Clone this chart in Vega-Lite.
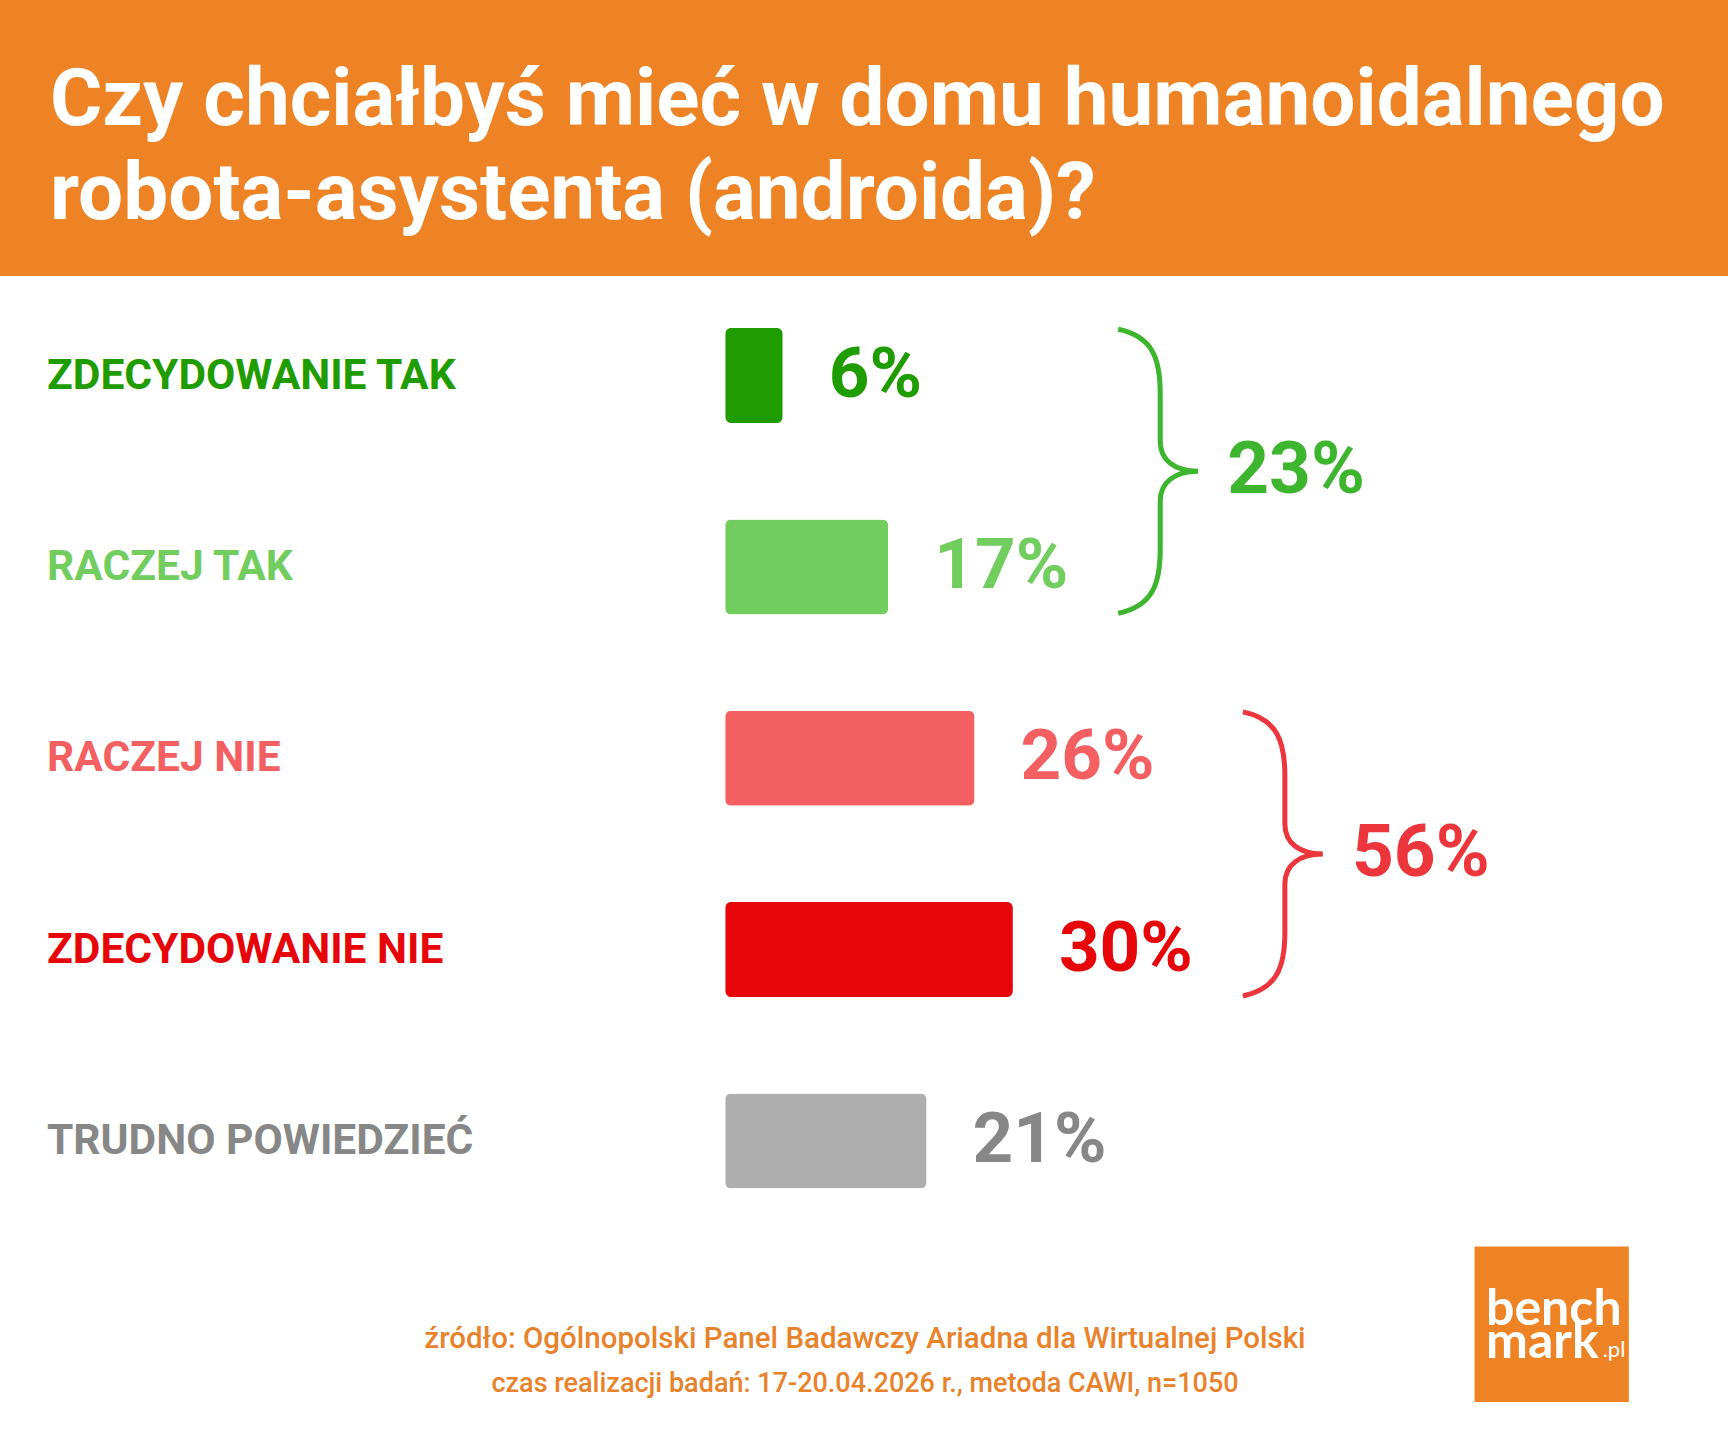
{
  "$schema": "https://vega.github.io/schema/vega-lite/v6.json",
  "width": 1728,
  "height": 1440,
  "autosize": {"type": "fit", "contains": "padding"},
  "padding": {"top": 61, "left": 0, "right": 0, "bottom": 0},
  "background": "#EE8326",
  "title": {
    "text": ["Czy chciałbyś mieć w domu humanoidalnego", "robota-asystenta (androida)?"],
    "anchor": "start",
    "frame": "group",
    "dx": 50,
    "offset": 40,
    "font": "Roboto",
    "fontSize": 80,
    "fontWeight": "bold",
    "color": "white",
    "lineHeight": 94
  },
  "config": {"view": {"fill": "white", "stroke": null}},
  "datasets": {
    "odpowiedzi": [
      {"kat": "ZDECYDOWANIE TAK", "v": 6, "nr": 1, "grupa": "tak"},
      {"kat": "RACZEJ TAK", "v": 17, "nr": 2, "grupa": "tak"},
      {"kat": "RACZEJ NIE", "v": 26, "nr": 3, "grupa": "nie"},
      {"kat": "ZDECYDOWANIE NIE", "v": 30, "nr": 4, "grupa": "nie"},
      {"kat": "TRUDNO POWIEDZIEĆ", "v": 21, "nr": 5, "grupa": "brak"}
    ]
  },
  "data": {"name": "odpowiedzi"},
  "layer": [
    {
      "data": {"values": [{}]},
      "mark": {"type": "rect", "color": "#EE8326"},
      "encoding": {
        "x": {"datum": 78.14, "type": "quantitative", "scale": {"domain": [-75.62, 104.57], "nice": false, "zero": false}, "axis": null},
        "x2": {"datum": 94.23},
        "y": {"datum": 5.552, "type": "quantitative", "scale": {"domain": [0.4794, 6.5629], "nice": false, "zero": false, "padding": 0, "reverse": true}, "axis": null},
        "y2": {"datum": 6.364}
      }
    },
    {
      "mark": {"type": "bar", "orient": "horizontal", "size": 95, "cornerRadius": 6},
      "encoding": {
        "x": {"field": "v", "type": "quantitative", "axis": null},
        "y": {"field": "nr", "type": "quantitative", "axis": null},
        "color": {
          "field": "kat",
          "type": "nominal",
          "legend": null,
          "scale": {
            "domain": ["ZDECYDOWANIE TAK", "RACZEJ TAK", "RACZEJ NIE", "ZDECYDOWANIE NIE", "TRUDNO POWIEDZIEĆ"],
            "range": ["#1F9D00", "#72CD5F", "#F45F61", "#E60509", "#AEAEAE"]
          }
        }
      }
    },
    {
      "mark": {"type": "text", "align": "left", "baseline": "middle", "font": "Roboto", "fontWeight": "bold", "fontSize": 42.5},
      "encoding": {
        "x": {"datum": -70.72, "type": "quantitative", "axis": null},
        "y": {"field": "nr", "type": "quantitative", "axis": null},
        "text": {"field": "kat"},
        "fill": {
          "field": "kat",
          "type": "nominal",
          "legend": null,
          "scale": {
            "domain": ["ZDECYDOWANIE TAK", "RACZEJ TAK", "RACZEJ NIE", "ZDECYDOWANIE NIE", "TRUDNO POWIEDZIEĆ", "tak", "nie"],
            "range": ["#1F9D00", "#72CD5F", "#F45F61", "#E60509", "#878787", "#3DB52E", "#EC363C"]
          }
        }
      }
    },
    {
      "transform": [{"calculate": "datum.v + '%'", "as": "etykieta"}],
      "mark": {"type": "text", "align": "left", "baseline": "middle", "dx": 46, "font": "Roboto", "fontWeight": "bold", "fontSize": 71},
      "encoding": {
        "x": {"field": "v", "type": "quantitative", "axis": null},
        "y": {"field": "nr", "type": "quantitative", "axis": null},
        "text": {"field": "etykieta"},
        "fill": {"field": "kat", "type": "nominal", "legend": null}
      }
    },
    {
      "transform": [
        {"filter": "datum.grupa !== 'brak'"},
        {"aggregate": [
          {"op": "sum", "field": "v", "as": "suma"},
          {"op": "max", "field": "v", "as": "vmax"},
          {"op": "mean", "field": "nr", "as": "srodek"}
        ], "groupby": ["grupa"]}
      ],
      "mark": {
        "type": "point",
        "shape": "M -0.28 -0.947 C -0.05 -0.9 0 -0.75 0 -0.52 L 0 -0.2 C 0 -0.07 0.1 0 0.253 0 C 0.1 0 0 0.07 0 0.2 L 0 0.52 C 0 0.75 -0.05 0.9 -0.28 0.947",
        "size": 90000,
        "filled": false,
        "strokeWidth": 5,
        "opacity": 1,
        "xOffset": 272
      },
      "encoding": {
        "x": {"field": "vmax", "type": "quantitative", "axis": null},
        "y": {"field": "srodek", "type": "quantitative", "axis": null},
        "stroke": {
          "field": "grupa",
          "type": "nominal",
          "legend": null,
          "scale": {"domain": ["tak", "nie"], "range": ["#3DB52E", "#EC363C"]}
        }
      }
    },
    {
      "transform": [
        {"filter": "datum.grupa !== 'brak'"},
        {"aggregate": [
          {"op": "sum", "field": "v", "as": "suma"},
          {"op": "max", "field": "v", "as": "vmax"},
          {"op": "mean", "field": "nr", "as": "srodek"}
        ], "groupby": ["grupa"]},
        {"calculate": "datum.suma + '%'", "as": "etykieta"}
      ],
      "mark": {"type": "text", "align": "left", "baseline": "middle", "dx": 339, "font": "Roboto", "fontWeight": "bold", "fontSize": 73},
      "encoding": {
        "x": {"field": "vmax", "type": "quantitative", "axis": null},
        "y": {"field": "srodek", "type": "quantitative", "axis": null},
        "text": {"field": "etykieta"},
        "fill": {"field": "grupa", "type": "nominal", "legend": null}
      }
    },
    {
      "data": {"values": [{}]},
      "mark": {
        "type": "text",
        "align": "center",
        "baseline": "middle",
        "font": "Roboto",
        "fontWeight": 500,
        "fontSize": 29.5,
        "color": "#E8822B",
        "text": "źródło: Ogólnopolski Panel Badawczy Ariadna dla Wirtualnej Polski"
      },
      "encoding": {
        "x": {"datum": 14.58, "type": "quantitative", "axis": null},
        "y": {"datum": 6.035, "type": "quantitative", "axis": null}
      }
    },
    {
      "data": {"values": [{}]},
      "mark": {
        "type": "text",
        "align": "center",
        "baseline": "middle",
        "font": "Roboto",
        "fontWeight": 500,
        "fontSize": 27,
        "color": "#E8822B",
        "text": "czas realizacji badań: 17-20.04.2026 r., metoda CAWI, n=1050"
      },
      "encoding": {
        "x": {"datum": 14.58, "type": "quantitative", "axis": null},
        "y": {"datum": 6.27, "type": "quantitative", "axis": null}
      }
    },
    {
      "data": {"values": [{}]},
      "mark": {
        "type": "text",
        "align": "left",
        "baseline": "alphabetic",
        "font": "Lato",
        "fontWeight": "bold",
        "fontSize": 50,
        "lineHeight": 33,
        "color": "white",
        "text": ["bench", "mark"]
      },
      "encoding": {
        "x": {"datum": 79.34, "type": "quantitative", "axis": null},
        "y": {"datum": 5.96, "type": "quantitative", "axis": null}
      }
    },
    {
      "data": {"values": [{}]},
      "mark": {"type": "text", "align": "left", "baseline": "alphabetic", "font": "Lato", "fontSize": 22, "color": "white", "text": ".pl"},
      "encoding": {
        "x": {"datum": 91.5, "type": "quantitative", "axis": null},
        "y": {"datum": 6.13, "type": "quantitative", "axis": null}
      }
    }
  ]
}
